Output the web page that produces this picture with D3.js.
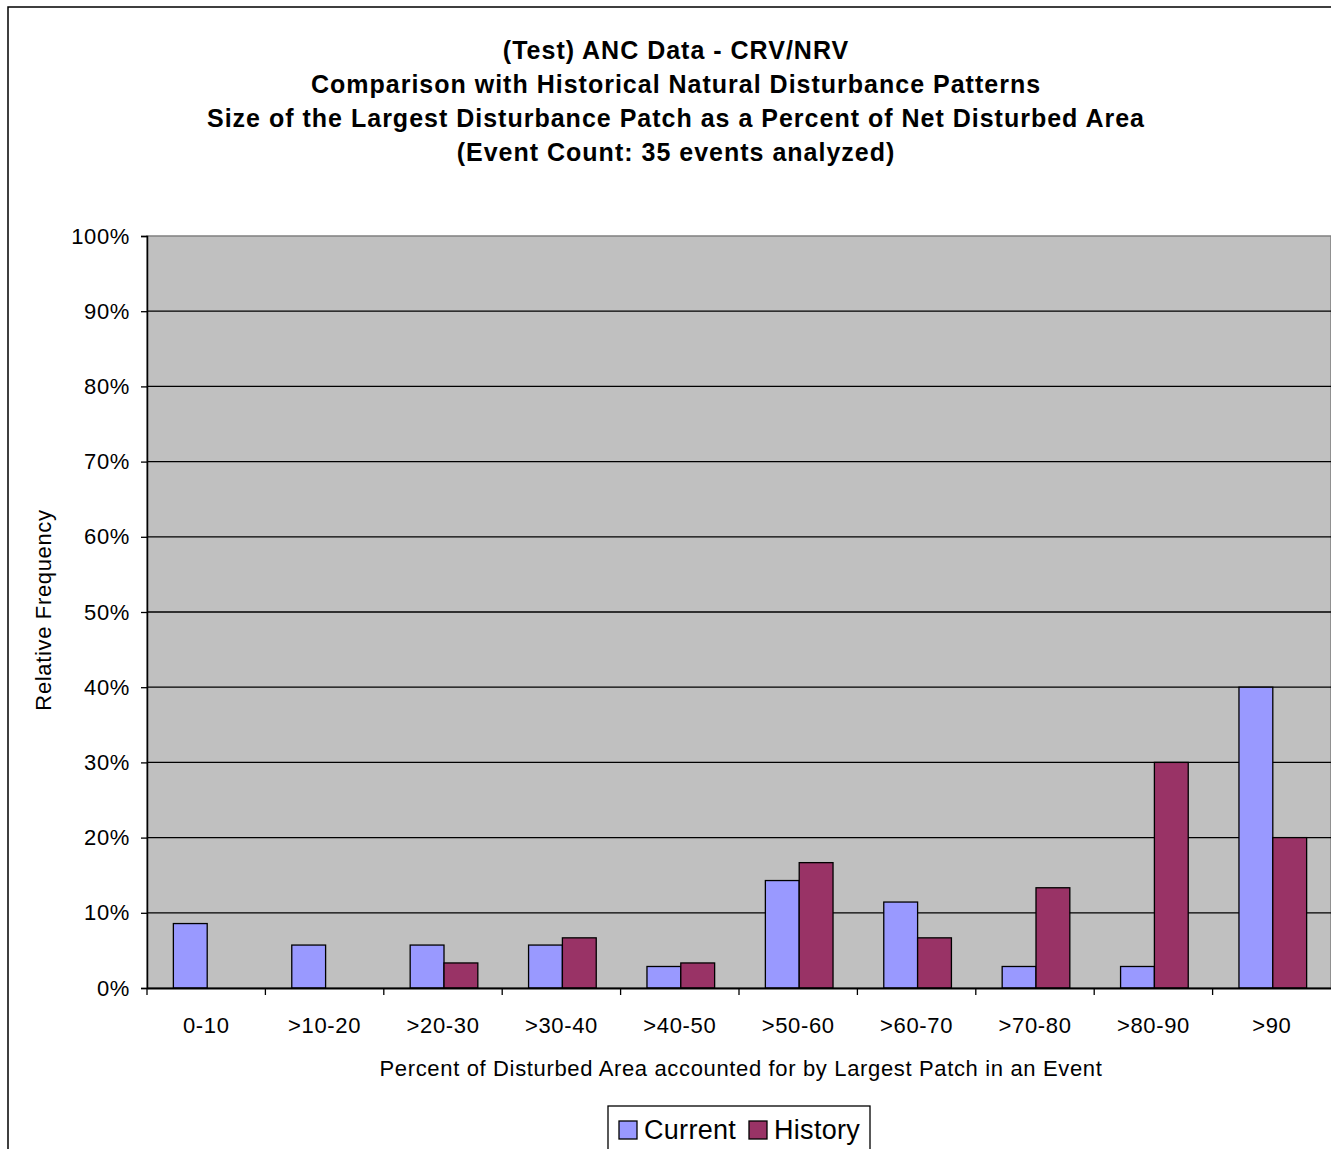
<!DOCTYPE html>
<html>
<head>
<meta charset="utf-8">
<script src="https://cdn.jsdelivr.net/npm/d3@7"></script>
<style>
  html, body { margin: 0; padding: 0; background: #fff; }
  svg { display: block; font-family: "Liberation Sans", Arial, sans-serif; }
</style>
</head>
<body>
<svg id="chart" width="1331" height="1149"></svg>
<script>
// Size classes of the largest patch (percent of disturbed area)
const categories = ["0-10", ">10-20", ">20-30", ">30-40", ">40-50", ">50-60", ">60-70", ">70-80", ">80-90", ">90"];
// Relative frequency (%) of events in each class
const currentValues = [8.57, 5.71, 5.71, 5.71, 2.86, 14.29, 11.43, 2.86, 2.86, 40.0];
const historyValues = [0, 0, 3.33, 6.67, 3.33, 16.67, 6.67, 13.33, 30.0, 20.0];
const seriesNames = ["Current", "History"];
const yTicks = [0, 10, 20, 30, 40, 50, 60, 70, 80, 90, 100];
const titleLines = [
  "(Test) ANC Data - CRV/NRV",
  "Comparison with Historical Natural Disturbance Patterns",
  "Size of the Largest Disturbance Patch as a Percent of Net Disturbed Area",
  "(Event Count: 35 events analyzed)"
];

const colors = { Current: "#9999FF", History: "#993366" };
const svg = d3.select("#chart");

// outer chart frame
svg.append("rect")
  .attr("x", 8).attr("y", 7)
  .attr("width", 1340).attr("height", 1160)
  .attr("fill", "#fff").attr("stroke", "#000").attr("stroke-width", 1.5);

// titles
svg.append("g").selectAll("text")
  .data(titleLines).join("text")
  .attr("x", 676)
  .attr("y", (d, i) => 59 + i * 34)
  .attr("text-anchor", "middle")
  .attr("font-size", 25)
  .attr("letter-spacing", 1)
  .attr("font-weight", "bold")
  .attr("fill", "#000")
  .text(d => d);

const plot = { left: 147, top: 236, right: 1331, bottom: 988 };

const x0 = d3.scaleBand().domain(categories).range([plot.left, plot.right]).padding(0);
// gap width of 150% between groups: each bar = band / 3.5
const x1 = d3.scaleBand().domain(seriesNames).range([0, x0.bandwidth()])
  .paddingInner(0).paddingOuter(0.75);
const y = d3.scaleLinear().domain([0, 100]).range([plot.bottom, plot.top]);

// plot background
svg.append("rect")
  .attr("x", plot.left).attr("y", plot.top)
  .attr("width", plot.right - plot.left).attr("height", plot.bottom - plot.top)
  .attr("fill", "#C0C0C0").attr("stroke", "#808080").attr("stroke-width", 1.5);

// gridlines
svg.append("g").selectAll("line")
  .data(yTicks.filter(t => t > 0 && t < 100)).join("line")
  .attr("x1", plot.left).attr("x2", plot.right)
  .attr("y1", d => y(d)).attr("y2", d => y(d))
  .attr("stroke", "#000").attr("stroke-width", 1.3);

// bars
const rows = categories.map((c, i) => ({ cat: c, Current: currentValues[i], History: historyValues[i] }));
const groups = svg.append("g").selectAll("g")
  .data(rows).join("g")
  .attr("transform", d => `translate(${x0(d.cat) + 1},0)`);
groups.selectAll("rect")
  .data(d => seriesNames.map(s => ({ s, v: d[s] })).filter(e => e.v > 0))
  .join("rect")
  .attr("x", d => x1(d.s))
  .attr("y", d => y(d.v))
  .attr("width", x1.bandwidth())
  .attr("height", d => y(0) - y(d.v))
  .attr("fill", d => colors[d.s])
  .attr("stroke", "#000").attr("stroke-width", 1.3);

const labelFont = "'Liberation Sans', Arial, sans-serif";

// y axis
const yAxis = d3.axisLeft(y).tickValues(yTicks).tickFormat(d => d + "%").tickSize(6).tickPadding(11);
const yg = svg.append("g").attr("transform", `translate(${plot.left},0)`).call(yAxis);
yg.select(".domain").attr("stroke", "#000").attr("stroke-width", 1.5);
yg.selectAll(".tick line").attr("stroke", "#000").attr("stroke-width", 1.3);
yg.selectAll(".tick text").attr("font-size", 22).attr("letter-spacing", 0.65).attr("fill", "#000")
  .attr("font-family", labelFont);

// x axis
const xAxis = d3.axisBottom(x0).tickSize(0).tickPadding(29);
const xg = svg.append("g").attr("transform", `translate(0,${plot.bottom})`).call(xAxis);
xg.select(".domain").attr("stroke", "#000").attr("stroke-width", 2);
xg.selectAll(".tick text").attr("font-size", 22).attr("letter-spacing", 0.65).attr("fill", "#000")
  .attr("font-family", labelFont);
// category separators below the axis
xg.append("g").selectAll("line")
  .data(categories).join("line")
  .attr("x1", d => x0(d)).attr("x2", d => x0(d))
  .attr("y1", 0).attr("y2", 7)
  .attr("stroke", "#000").attr("stroke-width", 1.3);

// axis titles
svg.append("text")
  .attr("x", 741).attr("y", 1076)
  .attr("text-anchor", "middle")
  .attr("font-size", 22)
  .attr("letter-spacing", 0.65)
  .text("Percent of Disturbed Area accounted for by Largest Patch in an Event");

svg.append("text")
  .attr("transform", `translate(51,${(plot.top + plot.bottom) / 2 - 2}) rotate(-90)`)
  .attr("text-anchor", "middle")
  .attr("font-size", 22)
  .attr("letter-spacing", 0.65)
  .text("Relative Frequency");

// legend
const legend = svg.append("g").attr("transform", "translate(608,1106)");
legend.append("rect")
  .attr("width", 262).attr("height", 60)
  .attr("fill", "#fff").attr("stroke", "#000").attr("stroke-width", 1.3);
const items = legend.selectAll("g.item")
  .data(seriesNames).join("g")
  .attr("class", "item")
  .attr("transform", (d, i) => `translate(${i === 0 ? 11 : 141},15)`);
items.append("rect")
  .attr("width", 18).attr("height", 18)
  .attr("fill", d => colors[d]).attr("stroke", "#000").attr("stroke-width", 1.3);
items.append("text")
  .attr("x", 25).attr("y", 18)
  .attr("font-size", 27)
  .attr("letter-spacing", 0.3)
  .text(d => d);
</script>
</body>
</html>
